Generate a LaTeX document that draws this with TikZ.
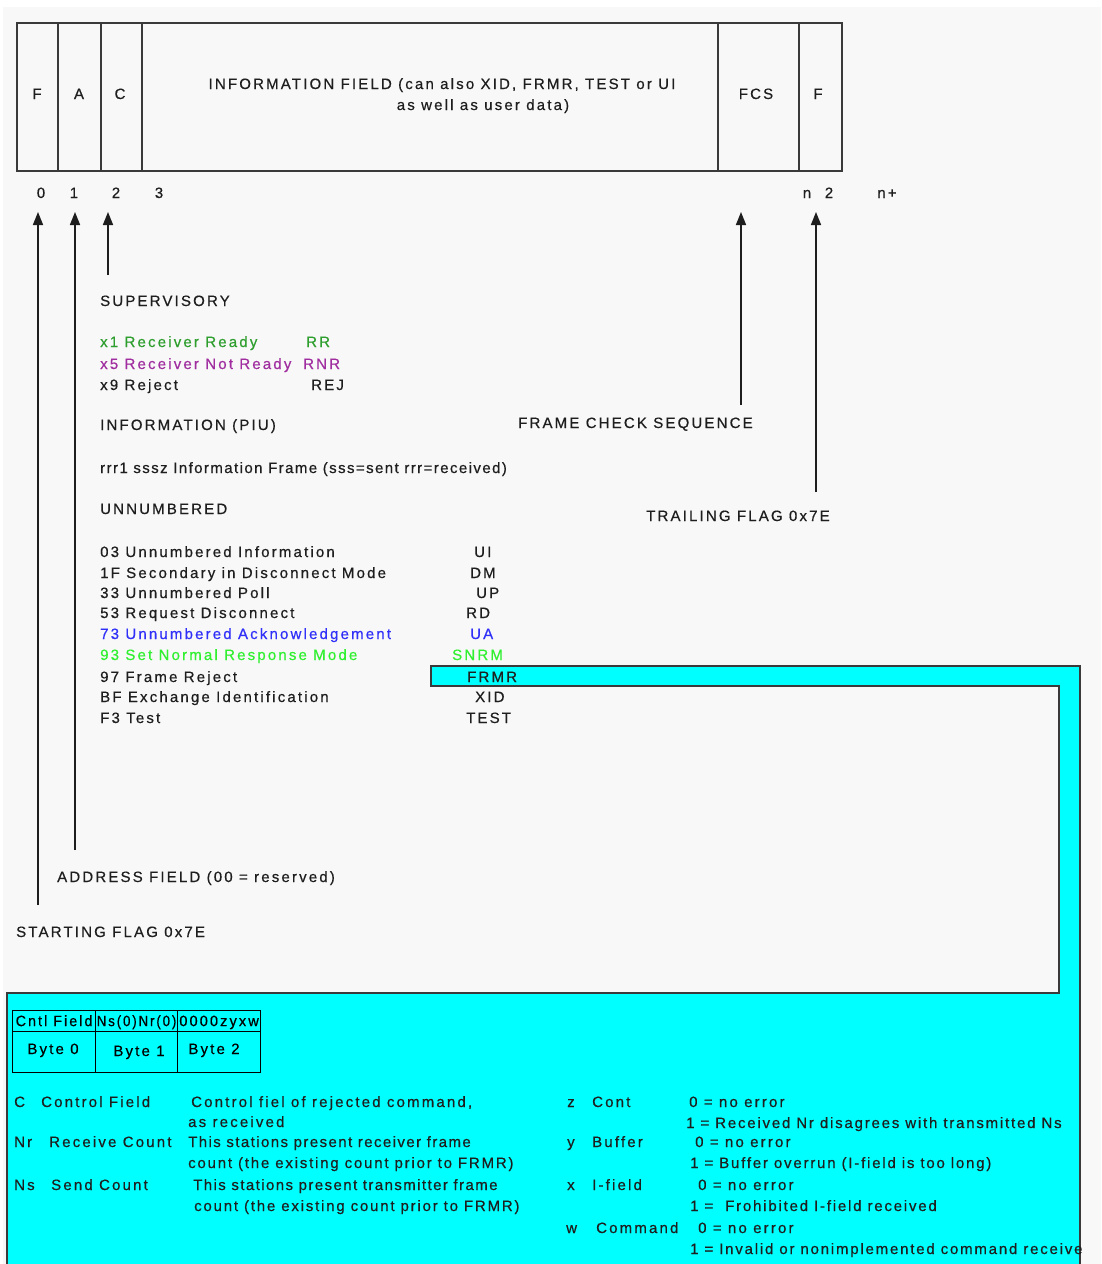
\documentclass[tikz,border=0pt]{standalone}
\usepackage{fontspec}
\setmainfont{Liberation Sans}[LetterSpace=14.5,FakeBold=0.5]
\usetikzlibrary{arrows.meta}
\definecolor{bg}{HTML}{F8F8F8}
\definecolor{ink}{HTML}{1E1E1E}
\definecolor{frameline}{HTML}{3A3A3A}
\definecolor{rrgreen}{HTML}{2E9E2E}
\definecolor{rnrpurple}{HTML}{A02EA0}
\definecolor{uablue}{HTML}{3030F8}
\definecolor{snrmgreen}{HTML}{30F030}
\definecolor{cyanfill}{HTML}{00FFFF}
\begin{document}
\begin{tikzpicture}[x=1pt,y=-1pt,
  txt/.style={anchor=base west, inner sep=0pt, font=\fontsize{15}{18}\selectfont, text=ink},
  ctxt/.style={anchor=base, inner sep=0pt, font=\fontsize{15}{18}\selectfont, text=ink},
  tight/.style={txt, font=\fontsize{15}{18}\selectfont\addfontfeature{LetterSpace=12}},
  tighter/.style={txt, font=\fontsize{15}{18}\selectfont\addfontfeature{LetterSpace=9.5}},
  cell/.style={draw=frameline, line width=1.6pt, anchor=north west, inner sep=0pt, minimum height=148pt},
  tcell/.style={draw=black, line width=1.2pt, anchor=north west, inner sep=0pt},
  arr/.style={draw=ink, line width=1.6pt, -{Triangle[width=10pt,length=13pt]}}]
\useasboundingbox (0,0) rectangle (1101,1264);
\fill[white] (0,0) rectangle (1101,1264);
\fill[bg] (3,7) rectangle (1101,1264);

% ---- frame ----
\node[cell, minimum width=41pt] (cF) at (16,22) {};
\node[cell, minimum width=43pt] (cA) at (57,22) {};
\node[cell, minimum width=41pt] (cC) at (100,22) {};
\node[cell, minimum width=576pt] (cI) at (141,22) {};
\node[cell, minimum width=81pt] (cFCS) at (717,22) {};
\node[cell, minimum width=43pt] (cF2) at (798,22) {};
\node[ctxt] (lF) at (37,99) {F};
\node[ctxt] (lA) at (79,99) {A};
\node[ctxt] (lC) at (120,99) {C};
\node[ctxt] (info1) at (442,89) {INFORMATION FIELD (can also XID, FRMR, TEST or UI};
\node[ctxt] (info2) at (483,110) {as well as user data)};
\node[ctxt] (lFCS) at (756,99) {FCS};
\node[ctxt] (lF2) at (818,99) {F};

% ---- byte numbers ----
\node[ctxt] (n0) at (41,198) {0};
\node[ctxt] (n1) at (74,198) {1};
\node[ctxt] (n2) at (116,198) {2};
\node[ctxt] (n3) at (159,198) {3};
\node[ctxt] (nn) at (807,198) {n};
\node[ctxt] (nn2) at (829,198) {2};
\node[ctxt] (nplus) at (887,198) {n+};

% ---- arrows ----
\coordinate (t0) at (38,212);
\coordinate (t1) at (75,212);
\coordinate (t2) at (108,212);
\coordinate (tF) at (741,212);
\coordinate (tT) at (816,212);
\coordinate (s0) at (38,905);
\coordinate (s1) at (75,850);
\coordinate (s2) at (108,275);
\coordinate (sF) at (741,405);
\coordinate (sT) at (816,492);
\draw[arr] (s0) -- (t0);
\draw[arr] (s1) -- (t1);
\draw[arr] (s2) -- (t2);
\draw[arr] (sF) -- (tF);
\draw[arr] (sT) -- (tT);

% ---- labels ----
\node[txt] (start) at (16,937) {STARTING FLAG 0x7E};
\node[txt] (addr) at (57,882) {ADDRESS FIELD (00 = reserved)};
\node[txt] (fcsl) at (518,428) {FRAME CHECK SEQUENCE};
\node[txt] (trail) at (646,521) {TRAILING FLAG 0x7E};

\node[txt] (sup) at (100,306) {SUPERVISORY};
\node[txt, text=rrgreen] (rr) at (100,347) {x1 Receiver Ready};
\node[txt, text=rrgreen] (rrc) at (306,347) {RR};
\node[txt, text=rnrpurple] (rnr) at (100,369) {x5 Receiver Not Ready};
\node[txt, text=rnrpurple] (rnrc) at (303,369) {RNR};
\node[txt] (rej) at (100,390) {x9 Reject};
\node[txt] (rejc) at (311,390) {REJ};
\node[txt] (piu) at (100,430) {INFORMATION (PIU)};
\node[tighter] (ifr) at (100,473) {rrr1 sssz Information Frame (sss=sent rrr=received)};
\node[txt] (unn) at (100,514) {UNNUMBERED};

% ---- cyan callout ----
\filldraw[fill=cyanfill, draw=frameline, line width=1.5pt]
  (431,666) -- (1080,666) -- (1080,1268) -- (7,1268) -- (7,993) -- (1059,993) -- (1059,686) -- (431,686) -- cycle;

\node[txt] (u1) at (100,557) {03 Unnumbered Information};
\node[txt] (u1c) at (474,557) {UI};
\node[txt] (u2) at (100,578) {1F Secondary in Disconnect Mode};
\node[txt] (u2c) at (470,578) {DM};
\node[txt] (u3) at (100,598) {33 Unnumbered Poll};
\node[txt] (u3c) at (476,598) {UP};
\node[txt] (u4) at (100,618) {53 Request Disconnect};
\node[txt] (u4c) at (466,618) {RD};
\node[txt, text=uablue] (u5) at (100,639) {73 Unnumbered Acknowledgement};
\node[txt, text=uablue] (u5c) at (470,639) {UA};
\node[txt, text=snrmgreen] (u6) at (100,660) {93 Set Normal Response Mode};
\node[txt, text=snrmgreen] (u6c) at (452,660) {SNRM};
\node[txt] (u7) at (100,682) {97 Frame Reject};
\node[txt] (u7c) at (467,682) {FRMR};
\node[txt] (u8) at (100,702) {BF Exchange Identification};
\node[txt] (u8c) at (475,702) {XID};
\node[txt] (u9) at (100,723) {F3 Test};
\node[txt] (u9c) at (466,723) {TEST};

% ---- FRMR byte table ----
\node[tcell, minimum width=83pt, minimum height=21pt] (h0) at (12,1010) {};
\node[tcell, minimum width=82pt, minimum height=21pt] (h1) at (95,1010) {};
\node[tcell, minimum width=83pt, minimum height=21pt] (h2) at (177,1010) {};
\node[tcell, minimum width=83pt, minimum height=41pt] (b0) at (12,1031) {};
\node[tcell, minimum width=82pt, minimum height=41pt] (b1) at (95,1031) {};
\node[tcell, minimum width=83pt, minimum height=41pt] (b2) at (177,1031) {};
\node[ctxt, text=black] (hc0) at ([yshift=-5pt]h0.center) {\scalebox{0.95}[1]{Cntl Field}};
\node[ctxt, text=black] (hc1) at ([yshift=-5pt]h1.center) {\scalebox{0.88}[1]{Ns(0)Nr(0)}};
\node[ctxt, text=black] (hc2) at ([yshift=-5pt]h2.center) {\scalebox{0.97}[1]{0000zyxw}};
\node[ctxt, text=black] (by0) at (53,1054) {Byte 0};
\node[ctxt, text=black] (by1) at (139,1056) {Byte 1};
\node[ctxt, text=black] (by2) at (214,1054) {Byte 2};

% ---- legend in callout ----
\begin{scope}[every node/.append style={text=black}]
\node[txt] (kC) at (14,1107) {C};
\node[txt] (kCn) at (41,1107) {Control Field};
\node[txt] (kCd) at (191,1107) {Control fiel of rejected command,};
\node[txt] (kCd2) at (188,1127) {as received};
\node[txt] (kNr) at (14,1147) {Nr};
\node[txt] (kNrn) at (49,1147) {Receive Count};
\node[tighter] (kNrd) at (188,1147) {This stations present receiver frame};
\node[tight] (kNrd2) at (188,1168) {count (the existing count prior to FRMR)};
\node[txt] (kNs) at (14,1190) {Ns};
\node[txt] (kNsn) at (51,1190) {Send Count};
\node[tighter] (kNsd) at (193,1190) {This stations present transmitter frame};
\node[tight] (kNsd2) at (194,1211) {count (the existing count prior to FRMR)};

\node[txt] (kz) at (567,1107) {z};
\node[txt] (kzn) at (592,1107) {Cont};
\node[txt] (kz0) at (689,1107) {0 = no error};
\node[tight] (kz1) at (686,1128) {1 = Received Nr disagrees with transmitted Ns};
\node[txt] (ky) at (567,1147) {y};
\node[txt] (kyn) at (592,1147) {Buffer};
\node[txt] (ky0) at (695,1147) {0 = no error};
\node[tight] (ky1) at (690,1168) {1 = Buffer overrun (I-field is too long)};
\node[txt] (kx) at (567,1190) {x};
\node[txt] (kxn) at (592,1190) {I-field};
\node[txt] (kx0) at (698,1190) {0 = no error};
\node[tight] (kx1) at (690,1211) {1 =\ \ Frohibited I-field received};
\node[txt] (kw) at (566,1233) {w};
\node[txt] (kwn) at (596,1233) {Command};
\node[txt] (kw0) at (698,1233) {0 = no error};
\node[tight] (kw1) at (690,1254) {1 = Invalid or nonimplemented command receive};
\end{scope}
\end{tikzpicture}
\end{document}
